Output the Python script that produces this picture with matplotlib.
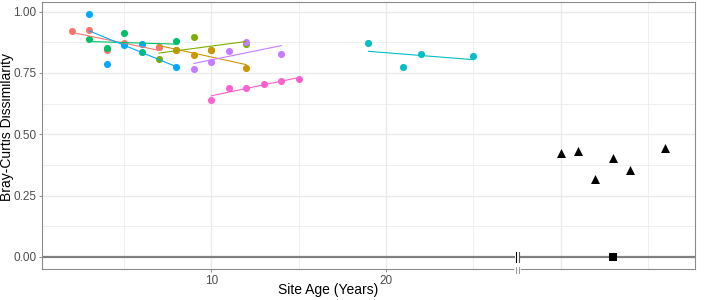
import numpy as np
import matplotlib
matplotlib.use("Agg")
import matplotlib.pyplot as plt
import matplotlib.transforms as mtransforms

plt.rcParams['font.family'] = ['Liberation Sans', 'DejaVu Sans']

# ---- data ----
golden_x = [7, 8, 9, 10, 12]
golden_y = [0.855, 0.845, 0.824, 0.845, 0.769]
olive_x = [7, 8, 9, 10, 12]
olive_y = [0.806, 0.845, 0.896, 0.845, 0.868]
red_x = [2, 3, 4, 5, 7]
red_y = [0.923, 0.925, 0.842, 0.872, 0.855]
green_x = [3, 4, 5, 6, 8]
green_y = [0.889, 0.852, 0.913, 0.835, 0.879]
blue_x = [3, 4, 5, 6, 8]
blue_y = [0.992, 0.786, 0.865, 0.869, 0.775]
teal_x = [19, 21, 22, 25]
teal_y = [0.871, 0.773, 0.828, 0.819]
purple_x = [9, 10, 11, 12, 14]
purple_y = [0.765, 0.793, 0.841, 0.878, 0.827]
pink_x = [10, 11, 12, 13, 14, 15]
pink_y = [0.639, 0.690, 0.690, 0.705, 0.717, 0.724]

tri_x = [30, 31, 32, 33, 34, 36]
tri_y = [0.423, 0.430, 0.319, 0.402, 0.354, 0.444]
sq_x = [33]
sq_y = [0.0]

x_ticks = [10, 20]
x_tick_labels = ["10", "20"]
y_ticks = [0.0, 0.25, 0.50, 0.75, 1.00]
y_tick_labels = ["0.00", "0.25", "0.50", "0.75", "1.00"]

series = [
    (olive_x, olive_y, "#7CAE00"),
    (golden_x, golden_y, "#CD9600"),
    (red_x, red_y, "#F8766D"),
    (green_x, green_y, "#00BE67"),
    (blue_x, blue_y, "#00A9FF"),
    (teal_x, teal_y, "#00BFC4"),
    (purple_x, purple_y, "#C77CFF"),
    (pink_x, pink_y, "#FF61CC"),
]

fig = plt.figure(figsize=(7.05, 3.0), dpi=100)
ax = fig.add_axes([42/705, 1 - 269/300, (695-42)/705, (269-2)/300])

xlim = (0.3, 37.7)
ax.set_xlim(*xlim)
ax.set_ylim(-0.0495, 1.0395)

# grid
for v in [5, 15, 25, 35]:
    ax.axvline(v, color="#EBEBEB", lw=0.55, zorder=0)
for v in [10, 20, 30]:
    ax.axvline(v, color="#EBEBEB", lw=1.0, zorder=0)
for v in [0.125, 0.375, 0.625, 0.875]:
    ax.axhline(v, color="#EBEBEB", lw=0.55, zorder=0)
for v in [0.25, 0.5, 0.75, 1.0]:
    ax.axhline(v, color="#EBEBEB", lw=1.0, zorder=0)

# zero line with break
brk_l, brk_r = 27.41, 27.64
ax.plot([xlim[0], brk_l], [0, 0], color="#808080", lw=1.6, zorder=1, solid_capstyle="butt")
ax.plot([brk_r, xlim[1]], [0, 0], color="#808080", lw=1.6, zorder=1, solid_capstyle="butt")

# points
for xs, ys, c in series:
    ax.scatter(xs, ys, s=26, color=c, zorder=3, linewidths=0)
# fitted lines
for xs, ys, c in series:
    xs_a = np.array(xs, float)
    k, b = np.polyfit(xs_a, np.array(ys, float), 1)
    xx = np.array([xs_a.min(), xs_a.max()])
    ax.plot(xx, k * xx + b, color=c, lw=0.8, zorder=4)

ax.scatter(tri_x, tri_y, marker="^", s=42, color="black", zorder=3, linewidths=0)
ax.scatter(sq_x, sq_y, marker="s", s=30, color="black", zorder=3, linewidths=0)

# break marks on zero line
for xb, col in [(27.45, "black"), (27.60, "#555555")]:
    ax.plot([xb, xb], [-0.021, 0.021], color=col, lw=0.8, zorder=5)

# spines
for sp in ax.spines.values():
    sp.set_color("#8c8c8c")
    sp.set_linewidth(0.8)

# break on bottom axis
trans = mtransforms.blended_transform_factory(ax.transData, ax.transAxes)
ax.plot([brk_l, brk_r], [0, 0], color="white", lw=2.0, transform=trans, clip_on=False, zorder=6)
for xb in [27.45, 27.60]:
    ax.plot([xb, xb], [-0.016, 0.009], color="#9a9a9a", lw=0.7, transform=trans, clip_on=False, zorder=7)

ax.set_xticks(x_ticks)
ax.set_xticklabels(x_tick_labels)
ax.set_yticks(y_ticks)
ax.set_yticklabels(y_tick_labels)
ax.tick_params(axis="both", colors="#8c8c8c", length=2.5, width=0.7, labelsize=8.5, labelcolor="#4d4d4d", pad=1.5)

ax.set_xlabel("Site Age (Years)", fontsize=10, color="black")
ax.set_ylabel("Bray-Curtis Dissimilarity", fontsize=10, color="black")
ax.xaxis.set_label_coords((328 - 42) / 653, -(290 - 269) / 267)
ax.yaxis.set_label_coords(-(42 - 7.5) / 653, (269 - 127) / 267)
ax.xaxis.label.set_va("center")
ax.yaxis.label.set_va("center")

fig.savefig("out.png", dpi=100)
